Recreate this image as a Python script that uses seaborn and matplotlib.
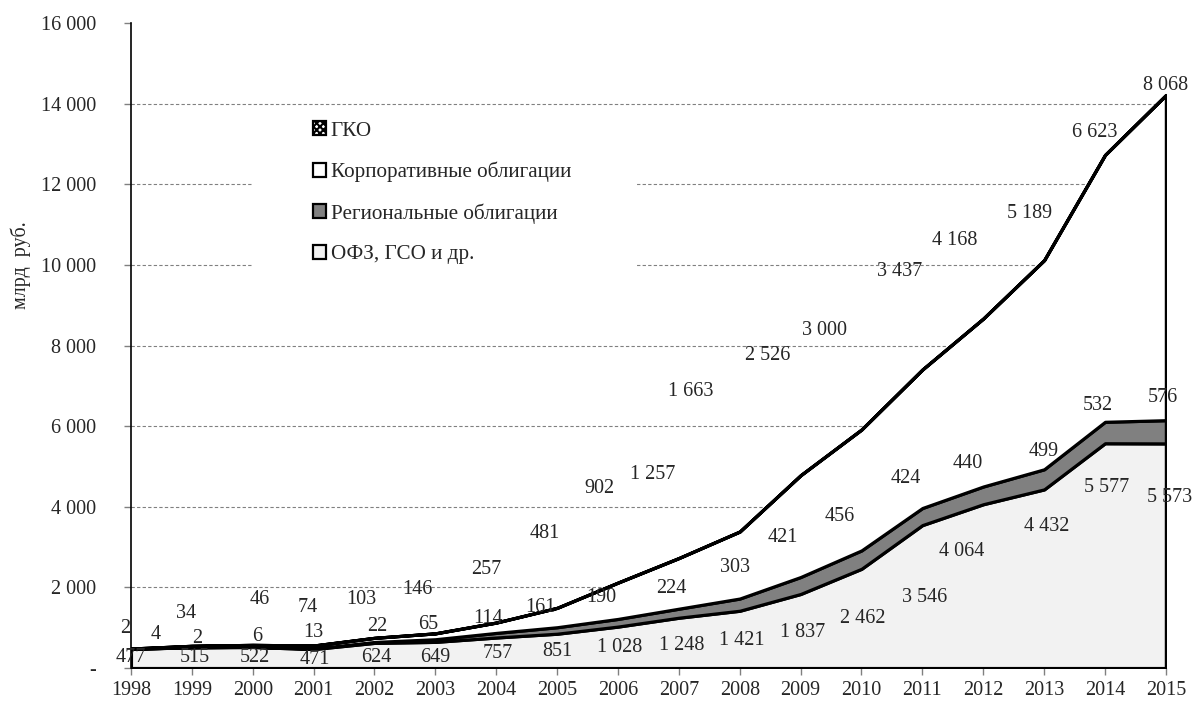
import matplotlib
matplotlib.use("Agg")
import matplotlib.pyplot as plt
from matplotlib.patches import Patch, Rectangle
import seaborn as sns

years = list(range(1998, 2016))
ofz = [477, 515, 522, 471, 624, 649, 757, 851, 1028, 1248, 1421, 1837,
       2462, 3546, 4064, 4432, 5577, 5573]
regional = [2, 2, 6, 13, 22, 65, 114, 161, 190, 224, 303, 421,
            456, 424, 440, 499, 532, 576]
corporate = [4, 34, 46, 74, 103, 146, 257, 481, 902, 1257, 1663, 2526,
             3000, 3437, 4168, 5189, 6623, 8068]
gko = [0] * len(years)

series_names = ["ОФЗ, ГСО и др.", "Региональные облигации",
                "Корпоративные облигации", "ГКО"]

# where Excel left the data labels (x in years, y in bln rub)
ofz_lab_x = [1998.0, 1999.05, 2000.03, 2001.02, 2002.03, 2003.0, 2004.03, 2005.0,
             2006.03, 2007.05, 2008.03, 2009.04, 2010.02, 2011.04, 2011.65,
             2013.04, 2014.03, 2015.06]
ofz_lab_y = [250, 250, 250, 200, 270, 270, 370, 400, 500, 570, 690, 870,
             1240, 1760, 2880, 3500, 4490, 4220]
reg_lab_x = [1997.9, 1999.08, 2000.08, 2001.0, 2002.04, 2002.88, 2003.86, 2004.72,
             2005.73, 2006.88, 2007.92, 2008.7, 2009.64, 2010.73, 2011.75,
             2013.0, 2013.88, 2014.95]
reg_lab_y = [970, 740, 770, 870, 1020, 1090, 1240, 1490, 1760, 1980, 2500, 3250,
             3750, 4690, 5080, 5360, 6520, 6720]
corp_lab_x = [1998.41, 1998.9, 2000.12, 2000.9, 2001.78, 2002.7, 2003.84, 2004.8,
              2005.69, 2006.57, 2007.2, 2008.46, 2009.4, 2010.63, 2011.53,
              2012.76, 2013.83, 2015.0]
corp_lab_y = [820, 1360, 1690, 1510, 1710, 1960, 2450, 3350, 4460, 4810, 6850, 7760,
              8380, 9850, 10610, 11280, 13290, 14460]


def fmt(v):
    return "{:,}".format(v).replace(",", " ")


sns.set_style("white")
plt.rcParams["font.family"] = ["Liberation Serif", "DejaVu Serif"]
plt.rcParams["hatch.linewidth"] = 1.5

fig = plt.figure(figsize=(11.97, 7.02), dpi=100)
ax = fig.add_axes([0.1094, 0.0484, 0.8646, 0.9186])

ax.stackplot(years, ofz, regional, corporate, gko,
             colors=["#f2f2f2", "#808080", "white", "white"],
             edgecolor="black", linewidth=2.3, zorder=2)

ax.set_xlim(1998, 2015)
ax.set_ylim(0, 16000)
ax.set_xticks(years)
ax.set_xticklabels([str(y) for y in years], fontsize=14.5)
yt = list(range(0, 16001, 2000))
ax.set_yticks(yt)
ax.set_yticklabels(["-"] + [fmt(v) for v in yt[1:]], fontsize=14.5)
ax.tick_params(axis="both", direction="out", length=5, width=1, color="#808080",
               left=True, bottom=True, pad=4)
ax.tick_params(axis="y", pad=20)

# dashed grid, none on the top line
for y in yt[1:-1]:
    ax.axhline(y, color="#808080", linestyle=(0, (3, 2)), linewidth=0.8, zorder=0)

# the legend box of the original is white and wide, it hides the grid under it
ax.add_patch(Rectangle((0.118, 0.586), 0.369, 0.271, transform=ax.transAxes,
                       facecolor="white", edgecolor="none", zorder=1))

for s in ["top", "right"]:
    ax.spines[s].set_visible(False)
ax.spines["left"].set_color("black")
ax.spines["left"].set_linewidth(1.2)
ax.spines["bottom"].set_visible(False)

ax.set_ylabel("млрд  руб.", fontsize=14.5)
ax.yaxis.set_label_coords(-0.097, 0.625)

for xs, ys, vals in [(ofz_lab_x, ofz_lab_y, ofz),
                     (reg_lab_x, reg_lab_y, regional),
                     (corp_lab_x, corp_lab_y, corporate)]:
    for x, y, v in zip(xs, ys, vals):
        ax.text(x, y, fmt(v), ha="center", va="center", fontsize=14.5, zorder=4)

handles = [
    Patch(facecolor="white", edgecolor="black", hatch="xxxxx", linewidth=1.6),
    Patch(facecolor="white", edgecolor="black", linewidth=1.6),
    Patch(facecolor="#808080", edgecolor="black", linewidth=1.6),
    Patch(facecolor="#f2f2f2", edgecolor="black", linewidth=1.6),
]
labels = [series_names[3], series_names[2], series_names[1], series_names[0]]
leg = ax.legend(handles, labels, loc="upper left", bbox_to_anchor=(0.176, 0.848),
                frameon=False, fontsize=15.2, handlelength=0.63, handleheight=0.63,
                handletextpad=0.2, labelspacing=1.0, borderpad=0.0,
                borderaxespad=0.0)
leg.set_zorder(3)

fig.savefig("out.png", dpi=100)
